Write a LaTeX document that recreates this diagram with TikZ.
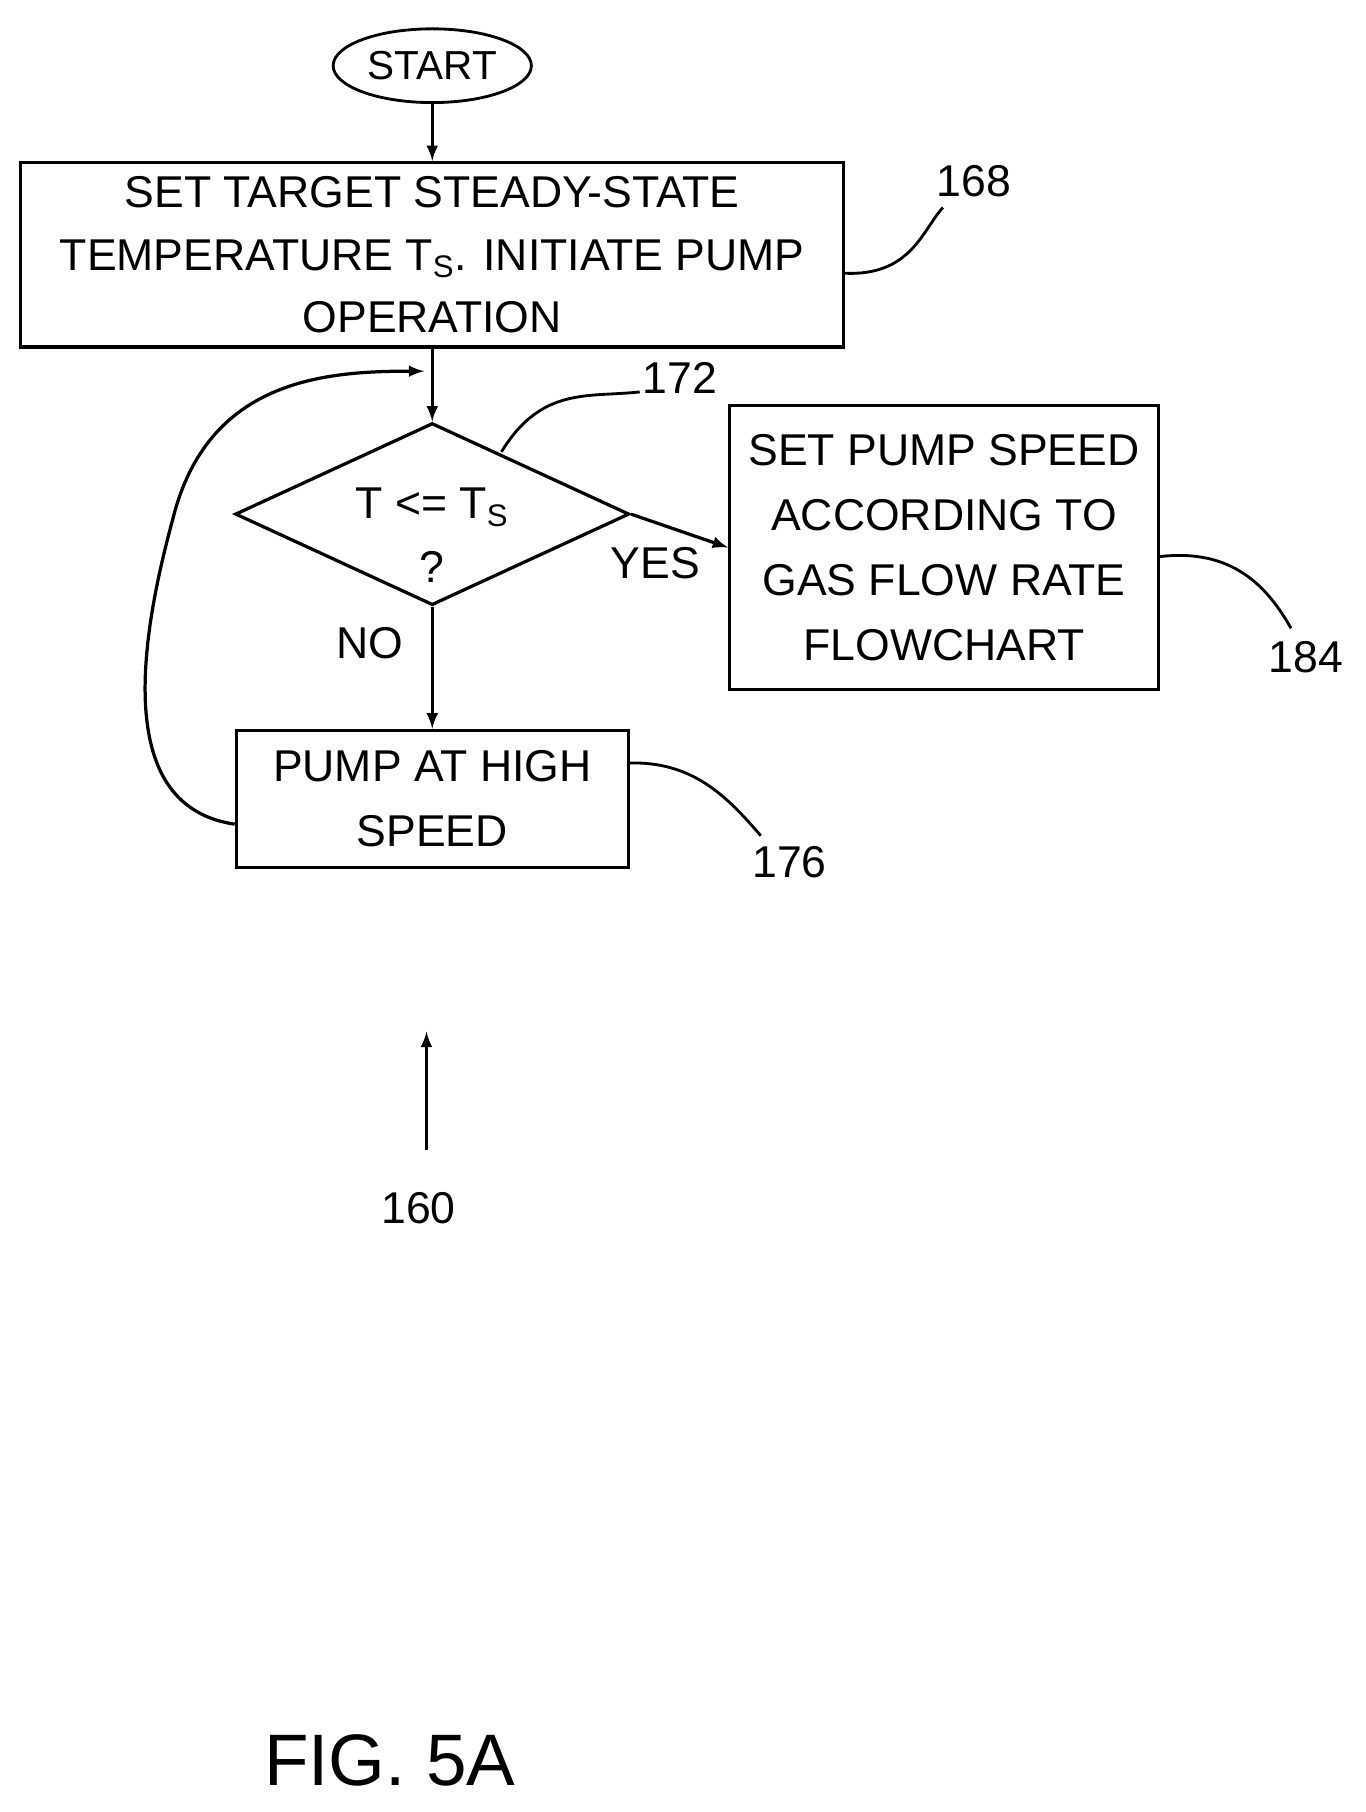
\documentclass[tikz,border=0pt]{standalone}
\usepackage{fontspec}
\setmainfont{Liberation Sans}
\usetikzlibrary{shapes.geometric,positioning}
\tikzset{
  box/.style={draw,line width=1.6pt,align=center,font=\fontsize{22}{28}\selectfont,inner sep=0pt},
  ref/.style={font=\fontsize{22}{26}\selectfont},
  lead/.style={line width=1.4pt},
  flow/.style={line width=1.6pt,->,>=latex}
}
\begin{document}
\begin{tikzpicture}[x=0.02cm,y=-0.02cm]
	\useasboundingbox (0,0) rectangle (1185,1572);

	\node[draw,ellipse,line width=1.4pt,minimum width=3.44cm,minimum height=1.28cm,inner sep=0pt,font=\fontsize{20}{24}\selectfont] (start) at (375,57) {START};
	\node[box,minimum width=14.28cm,minimum height=3.2cm] (set) at (375,221) {SET TARGET STEADY-STATE\\[3pt]TEMPERATURE T$_\mathrm{S}$. INITIATE PUMP\\[3pt]OPERATION};
	\node[draw,diamond,line width=1.6pt,aspect=2.17,minimum width=6.84cm,minimum height=3.16cm,inner sep=0pt] (test) at (375,446) {};
	\node[ref] at (375,440) {T <= T$_\mathrm{S}$};
	\node[ref] at (375,492) {?};
	\node[box,minimum width=7.44cm,minimum height=4.94cm] (rate) at (819,475) {SET PUMP SPEED\\[4pt]ACCORDING TO\\[4pt]GAS FLOW RATE\\[4pt]FLOWCHART};
	\node[box,minimum width=6.8cm,minimum height=2.38cm] (high) at (375,693) {PUMP AT HIGH\\[4pt]SPEED};

	\draw[flow] (start) -- (set);
	\draw[flow] (set) -- (test.north);
	\draw[flow] (test.east) -- (rate.west) node[ref,pos=0.25,below=8pt] {YES};
	\draw[flow] (test.south) -- (high) node[ref,pos=0.3,left=10pt] {NO};
	\coordinate (back) at (368,322);
	\draw[flow] (high.west |- 0,715) .. controls (100,700) and (120,560) .. (150,450) .. controls (180,330) and (280,322) .. (back);

	% reference numerals
	\node[ref] (n168) at (845,157) {168};
	\node[ref] (n172) at (590,328) {172};
	\node[ref] (n184) at (1133,570) {184};
	\node[ref] (n176) at (685,748) {176};
	\draw[lead] (732,237) .. controls (790,240) and (800,200) .. (818,180);
	\draw[lead] (435,392) .. controls (470,335) and (510,345) .. (555,340);
	\draw[lead] (1005,483) .. controls (1070,475) and (1100,510) .. (1120,545);
	\draw[lead] (545,662) .. controls (600,660) and (630,690) .. (660,725);

	\node[ref] (n160) at (363,1048) {160};
	\coordinate (tip) at (370,895);
	\draw[flow] (370,998) -- (tip);

	\node[font=\fontsize{36}{40}\selectfont] (fig) at (338,1527) {FIG. 5A};
\end{tikzpicture}
\end{document}
